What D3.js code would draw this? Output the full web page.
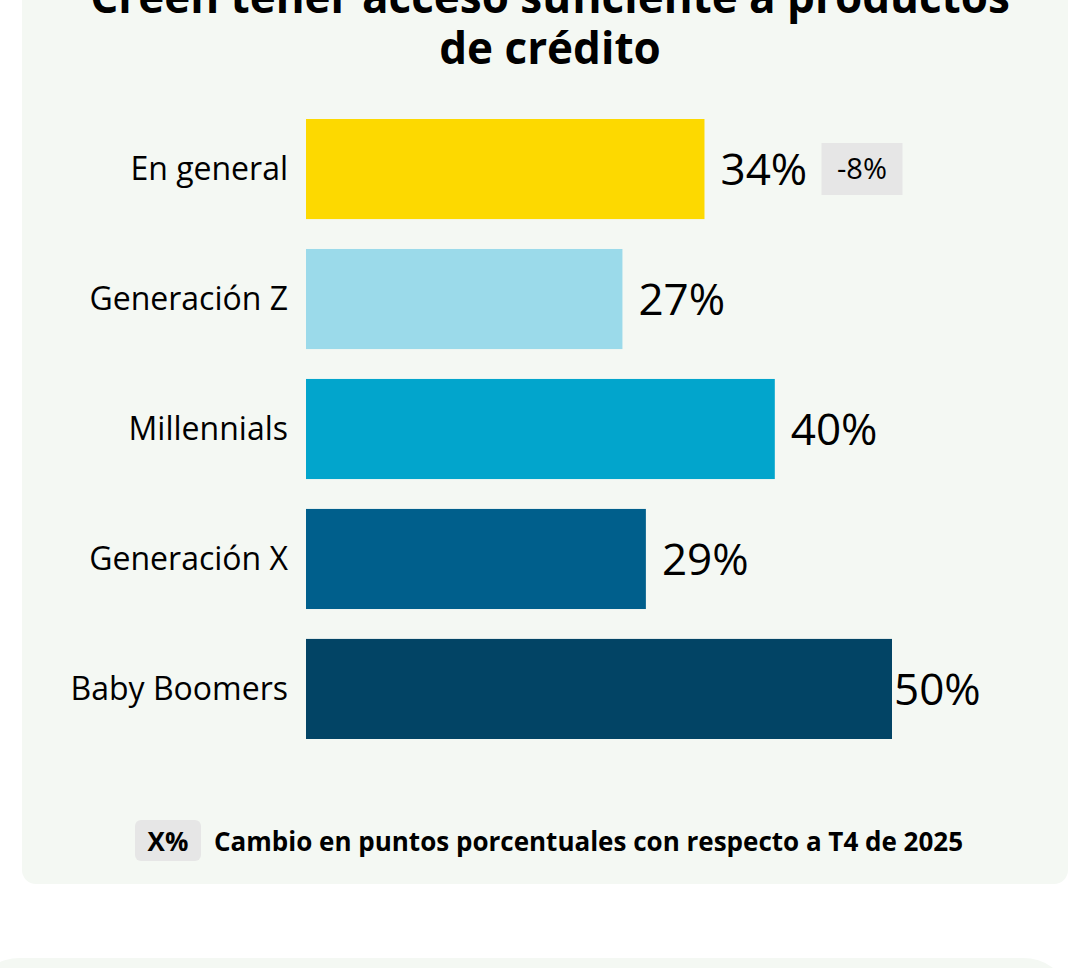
<!DOCTYPE html>
<html><head><meta charset="utf-8">
<script src="https://cdn.jsdelivr.net/npm/d3@7"></script>
<style>
html,body{margin:0;padding:0;background:#fff;}
svg{display:block;}
</style></head>
<body>
<svg id="chart" width="1073" height="968"></svg>
<script>
const titleLines = ["Creen tener acceso suficiente a productos", "de crédito"];
const categories = ["En general", "Generación Z", "Millennials", "Generación X", "Baby Boomers"];
const values = [34, 27, 40, 29, 50];
const colors = ["#fdd900", "#9bdaea", "#02a5cc", "#005f8c", "#024465"];
const deltas = ["-8%", null, null, null, null];
const legendBadge = "X%";
const legendText = "Cambio en puntos porcentuales con respecto a T4 de 2025";

const FONT = "'Open Sans', 'Noto Sans', sans-serif";
const svg = d3.select("#chart");

// panels
svg.append("rect").attr("x", 22).attr("y", -40).attr("width", 1046).attr("height", 924)
  .attr("rx", 14).attr("fill", "#f4f8f3");
svg.append("rect").attr("x", -20).attr("y", 958).attr("width", 1083).attr("height", 60)
  .attr("rx", 40).attr("fill", "#f4f8f3");

// title
svg.append("text").attr("x", 550).attr("text-anchor", "middle")
  .attr("font-family", FONT).attr("font-weight", 700).attr("font-size", 44).attr("fill", "#000")
  .selectAll("tspan").data(titleLines).join("tspan")
  .attr("x", 550).attr("y", (d, i) => 13 + i * 51).text(d => d);

const x = d3.scaleLinear().domain([0, 50]).range([306, 892]);
const y = d3.scaleBand().domain(categories).range([119, 739]).paddingInner(0.23).paddingOuter(0);
const barH = y.bandwidth();

const g = svg.append("g");
g.selectAll("rect.bar").data(categories).join("rect").attr("class", "bar")
  .attr("x", x(0)).attr("y", d => y(d)).attr("height", barH)
  .attr("width", (d, i) => x(values[i]) - x(0)).attr("fill", (d, i) => colors[i]);

g.selectAll("text.cat").data(categories).join("text").attr("class", "cat")
  .attr("x", x(0) - 18).attr("y", d => y(d) + barH / 2).attr("dy", "0.35em")
  .attr("text-anchor", "end").attr("font-family", FONT).attr("font-weight", 500).attr("font-size", 32).attr("fill", "#000")
  .text(d => d);

const labelX = v => Math.min(x(v) + 16, x(50) + 2);
g.selectAll("text.val").data(categories).join("text").attr("class", "val")
  .attr("x", (d, i) => labelX(values[i])).attr("y", d => y(d) + barH / 2).attr("dy", "0.36em")
  .attr("font-family", FONT).attr("font-weight", 500).attr("font-size", 44).attr("fill", "#000")
  .text((d, i) => values[i] + "%");

// delta badges
g.selectAll("g.delta").data(categories.filter((d, i) => deltas[i])).join("g").attr("class", "delta")
  .each(function(d) {
    const i = categories.indexOf(d);
    const sel = d3.select(this);
    const bx = labelX(values[i]) + 101;
    sel.append("rect").attr("x", bx).attr("y", y(d) + 24).attr("width", 81).attr("height", 52).attr("fill", "#e6e6e6");
    sel.append("text").attr("x", bx + 40.5).attr("y", y(d) + barH / 2).attr("dy", "0.35em")
      .attr("text-anchor", "middle").attr("font-family", FONT).attr("font-weight", 500).attr("font-size", 29).attr("fill", "#000").text(deltas[i]);
  });

// legend
const lg = svg.append("g");
lg.append("rect").attr("x", 135).attr("y", 820).attr("width", 66).attr("height", 41).attr("rx", 6).attr("fill", "#e6e6e6");
lg.append("text").attr("x", 168).attr("y", 851).attr("text-anchor", "middle")
  .attr("font-family", FONT).attr("font-weight", 700).attr("font-size", 26).attr("fill", "#000").text(legendBadge);
lg.append("text").attr("x", 214).attr("y", 851)
  .attr("font-family", FONT).attr("font-weight", 700).attr("font-size", 26).attr("fill", "#000").text(legendText);
</script>
</body></html>
